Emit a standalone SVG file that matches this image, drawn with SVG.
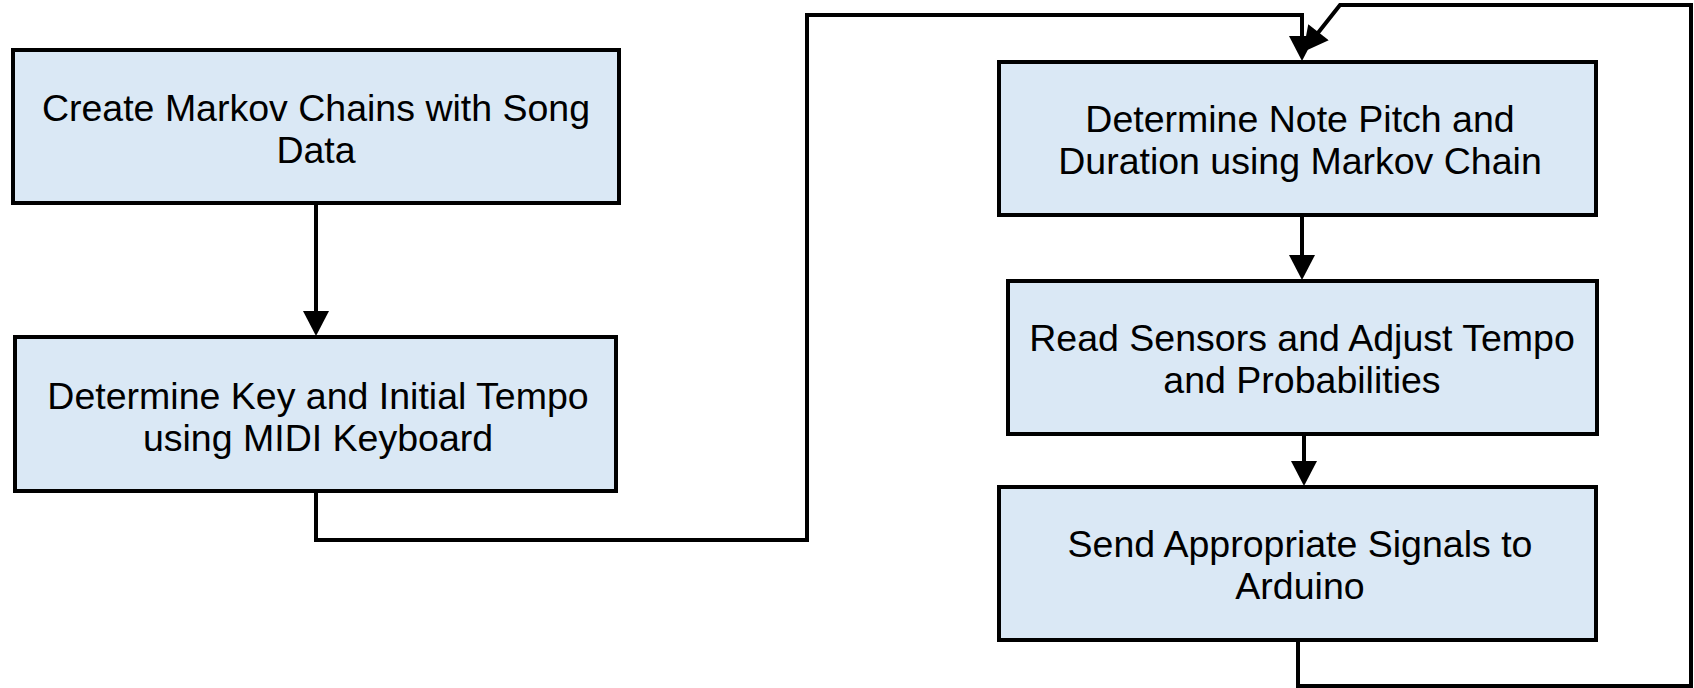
<svg xmlns="http://www.w3.org/2000/svg" width="1694" height="688" viewBox="0 0 1694 688">
<style>
.box{fill:#dae8f5;stroke:#000;stroke-width:4;stroke-linejoin:miter}
.lbl{font-family:"Liberation Sans",Arial,sans-serif;font-size:37.5px;fill:#000;text-anchor:middle}
.conn{fill:none;stroke:#000;stroke-width:4;stroke-linejoin:miter}
</style>
<defs>
<marker id="arr" markerUnits="userSpaceOnUse" markerWidth="26" markerHeight="26" viewBox="0 0 25 26" refX="15" refY="13" orient="auto">
<path d="M0,0 L25,13 L0,26 z" fill="#000"/>
</marker>
</defs>
<rect width="1694" height="688" fill="#fff"/>
<g id="connectors">
<path class="conn" d="M316,204 V326" marker-end="url(#arr)"/>
<path class="conn" d="M316,491 V540 H807 V15 H1302 V51" marker-end="url(#arr)"/>
<path class="conn" d="M1302,215 V270" marker-end="url(#arr)"/>
<path class="conn" d="M1304,434 V476" marker-end="url(#arr)"/>
<path class="conn" d="M1298,640 V686 H1691 V5 H1340 L1309.2,44.1" marker-end="url(#arr)"/>
</g>
<g id="node1">
<rect class="box" x="13" y="50" width="606" height="153"/>
<text class="lbl" x="316" y="121">Create Markov Chains with Song</text>
<text class="lbl" x="316" y="163">Data</text>
</g>
<g id="node2">
<rect class="box" x="15" y="337" width="601" height="154"/>
<text class="lbl" x="318" y="409">Determine Key and Initial Tempo</text>
<text class="lbl" x="318" y="451">using MIDI Keyboard</text>
</g>
<g id="node3">
<rect class="box" x="999" y="62" width="597" height="153"/>
<text class="lbl" x="1300" y="132">Determine Note Pitch and</text>
<text class="lbl" x="1300" y="174">Duration using Markov Chain</text>
</g>
<g id="node4">
<rect class="box" x="1008" y="281" width="589" height="153"/>
<text class="lbl" x="1302" y="351">Read Sensors and Adjust Tempo</text>
<text class="lbl" x="1302" y="393">and Probabilities</text>
</g>
<g id="node5">
<rect class="box" x="999" y="487" width="597" height="153"/>
<text class="lbl" x="1300" y="557">Send Appropriate Signals to</text>
<text class="lbl" x="1300" y="599">Arduino</text>
</g>
</svg>
